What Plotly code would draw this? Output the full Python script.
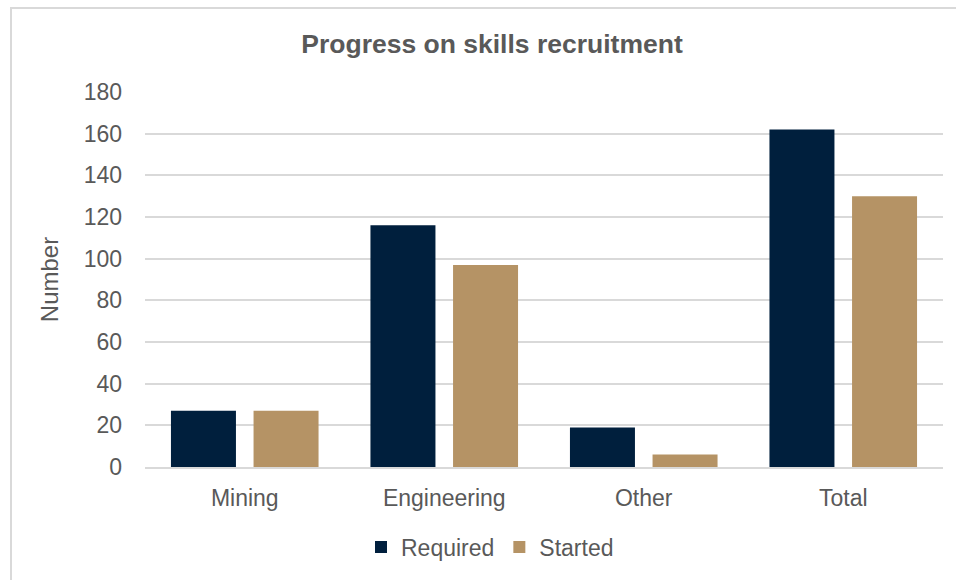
import plotly.graph_objects as go

# Recruitment counts by skill area
categories = ["Mining", "Engineering", "Other", "Total"]
required = [27, 116, 19, 162]
started = [27, 97, 6, 130]
y_ticks = [0, 20, 40, 60, 80, 100, 120, 140, 160, 180]

NAVY = "#001F3D"
TAN = "#B59365"
TEXT = "#595959"
GRID = "#D9D9D9"
FONT = "Liberation Sans, Arial, sans-serif"

fig = go.Figure()
fig.add_trace(go.Bar(name="Required", x=categories, y=required,
                     marker=dict(color=NAVY, line=dict(width=0))))
fig.add_trace(go.Bar(name="Started", x=categories, y=started,
                     marker=dict(color=TAN, line=dict(width=0))))

# plot area: x 145..943, y 92..467 in a 956x580 canvas
L, R, T, B = 145, 13, 92, 113
W, H = 956, 580
pw, ph = W - L - R, H - T - B

def px_x(x):
    return (x - L) / pw

def px_y(y):
    return (H - B - y) / ph

fig.update_layout(
    width=W, height=H,
    margin=dict(l=L, r=R, t=T, b=B, autoexpand=False),
    paper_bgcolor="white", plot_bgcolor="white",
    font=dict(family=FONT, color=TEXT, size=23),
    barmode="group", bargap=0.172, bargroupgap=0.213,
    title=dict(text="<b>Progress on skills recruitment</b>",
               x=492 / W, xanchor="center", y=1 - 44 / H, yanchor="middle",
               font=dict(size=26.5, color=TEXT, family=FONT)),
    legend=dict(orientation="h", x=px_x(490), xanchor="center",
                y=px_y(547), yanchor="middle",
                font=dict(size=23, color=TEXT), itemwidth=30,
                bgcolor="rgba(0,0,0,0)"),
    showlegend=True,
    xaxis=dict(showgrid=False, showline=True, linecolor=GRID, linewidth=2,
               ticks="", tickfont=dict(size=23, color=TEXT),
               ticklabelstandoff=9, automargin=False),
    yaxis=dict(range=[0, 180], tickvals=y_ticks, showgrid=True,
               gridcolor=GRID, gridwidth=2, zeroline=False, showline=False,
               ticks="", tickfont=dict(size=23, color=TEXT),
               ticklabelstandoff=22, automargin=False,
               title=dict(text="Number", font=dict(size=24, color=TEXT),
                          standoff=18)),
    shapes=[dict(type="rect", xref="paper", yref="paper",
                 x0=px_x(11), x1=px_x(970), y0=px_y(600), y1=px_y(8),
                 line=dict(color=GRID, width=2), fillcolor="rgba(0,0,0,0)",
                 layer="below")],
)

fig.write_html("out.html")
